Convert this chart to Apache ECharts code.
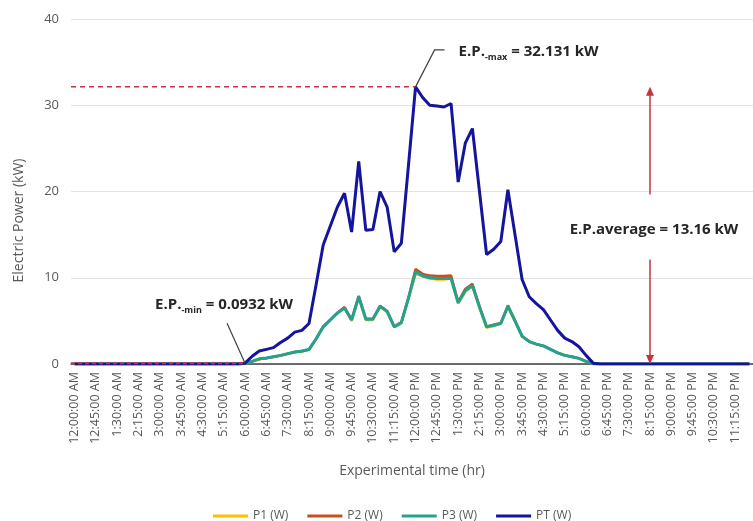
<!DOCTYPE html>
<html>
<head>
<meta charset="utf-8">
<script src="https://cdn.jsdelivr.net/npm/echarts@6/dist/echarts.min.js"></script>
<style>html,body{margin:0;padding:0;background:#fff}#main{width:753px;height:521px}</style>
</head>
<body>
<div id="main"></div>
<script>
// time labels, every 15 min over one day
var categories = [];
for (var h = 0; h < 24; h++) {
  for (var m = 0; m < 60; m += 15) {
    var hh = h % 12 === 0 ? 12 : h % 12;
    categories.push(hh + ':' + (m < 10 ? '0' + m : m) + ':00 ' + (h < 12 ? 'AM' : 'PM'));
  }
}

var p1 = [
  0,0,0,0,0,0,0,0,0,0,0,0,
  0,0,0,0,0,0,0,0,0,0,0,0,
  0.04,0.3,0.55,0.65,0.8,0.95,1.15,1.35,1.45,1.65,
  2.9,4.3,5.1,5.9,6.5,5.0,7.7,5.1,5.1,6.6,
  6.0,4.3,4.7,7.6,10.4,10.2,9.9,9.8,9.8,9.9,
  7.0,8.4,9.0,6.5,4.2,4.4,4.7,6.6,4.9,3.2,
  2.6,2.3,2.1,1.7,1.3,1.0,0.85,0.65,0.3,0.03,
  0,0,0,0,0,0,0,0,0,0,0,
  0,0,0,0,0,0,0,0,0,0,0
];
var p2 = [
  0,0,0,0,0,0,0,0,0,0,0,0,
  0,0,0,0,0,0,0,0,0,0,0,0,
  0.04,0.3,0.58,0.68,0.83,0.98,1.18,1.38,1.48,1.68,
  2.95,4.35,5.15,5.95,6.6,5.15,7.9,5.25,5.25,6.75,
  6.15,4.35,4.85,7.7,11.0,10.45,10.25,10.2,10.2,10.25,
  7.2,8.7,9.3,6.7,4.35,4.55,4.75,6.8,5.05,3.25,
  2.6,2.3,2.1,1.7,1.3,1.0,0.85,0.65,0.3,0.03,
  0,0,0,0,0,0,0,0,0,0,0,
  0,0,0,0,0,0,0,0,0,0,0
];
var p3 = [
  0,0,0,0,0,0,0,0,0,0,0,0,
  0,0,0,0,0,0,0,0,0,0,0,0,
  0.05,0.3,0.6,0.7,0.85,1.0,1.2,1.4,1.5,1.7,
  2.9,4.3,5.1,5.9,6.5,5.1,7.8,5.2,5.2,6.7,
  6.1,4.3,4.8,7.6,10.7,10.2,10.0,9.9,9.9,9.9,
  7.1,8.5,9.1,6.6,4.3,4.5,4.7,6.7,5.0,3.2,
  2.6,2.3,2.1,1.7,1.3,1.0,0.85,0.65,0.3,0.03,
  0,0,0,0,0,0,0,0,0,0,0,
  0,0,0,0,0,0,0,0,0,0,0
];
var pt = [
  0,0,0,0,0,0,0,0,0,0,0,0,
  0,0,0,0,0,0,0,0,0,0,0,0,
  0.0932,0.9,1.5,1.7,1.9,2.5,3.0,3.7,3.9,4.7,
  9.2,13.8,16.0,18.2,19.8,15.3,23.5,15.5,15.6,20.0,
  18.2,13.0,14.0,23.0,32.131,30.9,30.0,29.9,29.8,30.2,
  21.1,25.6,27.3,20.0,12.7,13.3,14.2,20.2,15.0,9.8,
  7.8,7.0,6.3,5.1,3.9,3.0,2.6,2.0,1.0,0.1,
  0,0,0,0,0,0,0,0,0,0,0,
  0,0,0,0,0,0,0,0,0,0,0
];

var epMax = 32.131, epMin = 0.0932, epAvg = 13.16;
var avgAt = '8:15:00 PM';

var font = 'Open Sans';
var colors = ['#FFC000', '#C9501C', '#22A392', '#14149E'];

var chartDom = document.getElementById('main');
var myChart = echarts.init(chartDom);
var option;

function lineSeries(name, data, width) {
  return {
    name: name,
    type: 'line',
    data: data,
    symbol: 'none',
    lineStyle: { width: width },
    emphasis: { disabled: true }
  };
}

option = {
  animation: false,
  backgroundColor: '#fff',
  color: colors,
  textStyle: { fontFamily: font },
  grid: { left: 71, right: -8, top: 19, bottom: 157 },
  legend: {
    top: 505,
    left: 208,
    icon: 'rect',
    itemWidth: 35,
    itemHeight: 3,
    itemGap: 19,
    textStyle: { fontSize: 12, color: '#595959', fontFamily: font },
    data: ['P1 (W)', 'P2 (W)', 'P3 (W)', 'PT (W)']
  },
  xAxis: {
    type: 'category',
    data: categories,
    name: 'Experimental time (hr)',
    nameLocation: 'middle',
    nameGap: 100,
    nameTextStyle: { fontSize: 14, color: '#595959', fontFamily: font },
    axisTick: { show: false },
    axisLine: { lineStyle: { color: '#404040', width: 1.5 } },
    axisLabel: {
      interval: 2,
      rotate: 90,
      fontSize: 12.5,
      color: '#595959',
      margin: 8
    }
  },
  yAxis: {
    type: 'value',
    min: 0,
    max: 40,
    interval: 10,
    name: 'Electric Power (kW)',
    nameLocation: 'middle',
    nameGap: 45,
    nameTextStyle: { fontSize: 14, color: '#595959', fontFamily: font, padding: [0, 58, 0, 0] },
    axisLine: { show: false },
    axisTick: { show: false },
    axisLabel: { fontSize: 13, color: '#595959', margin: 12 },
    splitLine: { lineStyle: { color: '#E3E3E3', width: 1 } }
  },
  series: [
    lineSeries('P1 (W)', p1, 2.5),
    lineSeries('P2 (W)', p2, 2.5),
    lineSeries('P3 (W)', p3, 3),
    lineSeries('PT (W)', pt, 3)
  ]
};
myChart.setOption(option);

// annotations placed from data positions
function px(i, v) {
  return myChart.convertToPixel({ gridIndex: 0 }, [i, v]);
}
var maxIdx = pt.indexOf(epMax);
var minIdx = pt.indexOf(epMin);
var avgIdx = categories.indexOf(avgAt);
var band = px(1, 0)[0] - px(0, 0)[0];
var leftX = px(0, 0)[0] - band / 2;
var pMax = px(maxIdx, epMax);
var pMin = px(minIdx, epMin);
var pTop = px(avgIdx, epMax);
var pBot = px(avgIdx, 0);
var mid = (pTop[1] + pBot[1]) / 2;
var red = '#C8323F';
var ink = '#262626';

function rich(main, sub, rest) {
  return {
    text: '{b|' + main + '}{s|' + sub + '}{b|' + rest + '}',
    rich: {
      b: { fontSize: 15, fontWeight: 'bold', fontFamily: font, fill: ink, lineHeight: 20 },
      s: { fontSize: 9, fontWeight: 'bold', fontFamily: font, fill: ink, lineHeight: 9, verticalAlign: 'bottom' }
    },
    verticalAlign: 'middle'
  };
}

myChart.setOption({
  graphic: [
    { type: 'line', z: 100, silent: true,
      shape: { x1: leftX, y1: pMax[1], x2: pMax[0], y2: pMax[1] },
      style: { stroke: red, lineWidth: 1.5, lineDash: [5, 4] } },
    { type: 'line', z: 100, silent: true,
      shape: { x1: leftX, y1: pMin[1], x2: pMin[0], y2: pMin[1] },
      style: { stroke: red, lineWidth: 2, lineDash: [4, 3] } },
    { type: 'polyline', z: 100, silent: true,
      shape: { points: [[pMax[0], pMax[1]], [pMax[0] + 19, pMax[1] - 37], [pMax[0] + 29, pMax[1] - 37]] },
      style: { stroke: '#404040', lineWidth: 1.2, fill: null } },
    { type: 'text', z: 100, silent: true, x: pMax[0] + 43, y: pMax[1] - 35,
      style: rich('E.P.', '-max', ' = ' + epMax + ' kW') },
    { type: 'line', z: 100, silent: true,
      shape: { x1: pMin[0], y1: pMin[1], x2: pMin[0] - 18, y2: pMin[1] - 40 },
      style: { stroke: '#404040', lineWidth: 1.2 } },
    { type: 'text', z: 100, silent: true, x: pMin[0] - 90, y: pMin[1] - 58,
      style: rich('E.P.', '-min', ' = ' + epMin + ' kW') },
    // average double arrow
    { type: 'line', z: 100, silent: true,
      shape: { x1: pTop[0], y1: pTop[1] + 8, x2: pTop[0], y2: mid - 31 },
      style: { stroke: red, lineWidth: 1.5 } },
    { type: 'polygon', z: 100, silent: true,
      shape: { points: [[pTop[0], pTop[1]], [pTop[0] - 4, pTop[1] + 9], [pTop[0] + 4, pTop[1] + 9]] },
      style: { fill: red } },
    { type: 'line', z: 100, silent: true,
      shape: { x1: pBot[0], y1: mid + 34, x2: pBot[0], y2: pBot[1] - 8 },
      style: { stroke: red, lineWidth: 1.5 } },
    { type: 'polygon', z: 100, silent: true,
      shape: { points: [[pBot[0], pBot[1]], [pBot[0] - 4, pBot[1] - 9], [pBot[0] + 4, pBot[1] - 9]] },
      style: { fill: red } },
    { type: 'text', z: 100, silent: true, x: pTop[0] + 4, y: mid + 4,
      style: { text: 'E.P.average = ' + epAvg + ' kW', fontSize: 15, fontWeight: 'bold', fontFamily: font,
        fill: ink, align: 'center', verticalAlign: 'middle' } }
  ]
});

window.addEventListener('resize', myChart.resize);
</script>
</body>
</html>
